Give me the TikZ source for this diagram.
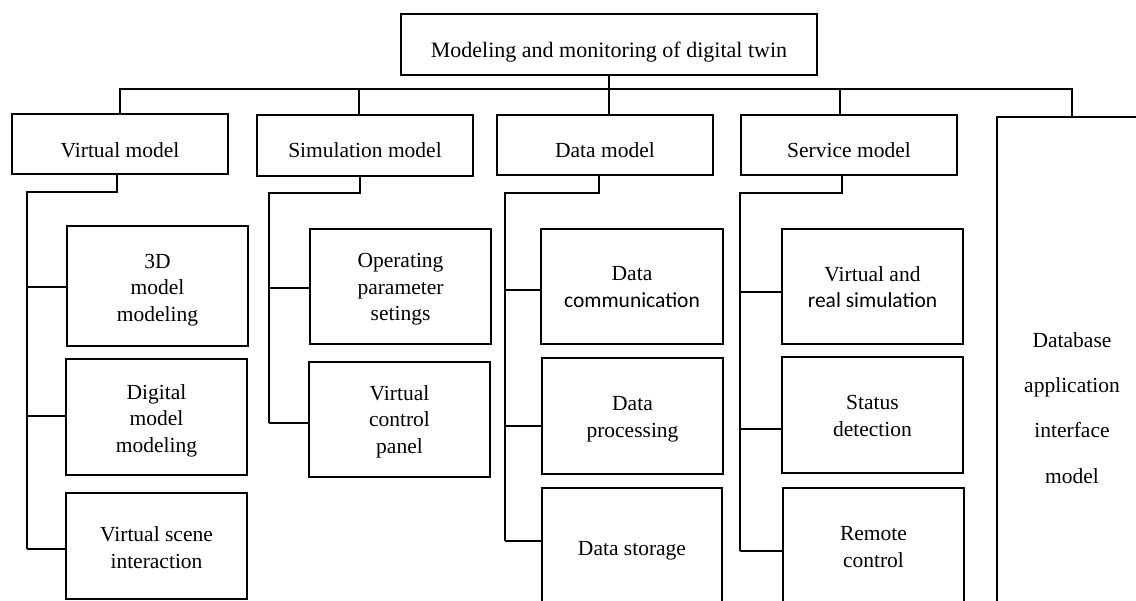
\documentclass[tikz,border=0pt]{standalone}
\usepackage{fontspec}
\setmainfont{Liberation Serif}
\newfontfamily\calfont{Carlito}
\begin{document}
\begin{tikzpicture}[x=1pt,y=-1pt,
  box/.style={draw, line width=1.7pt, inner sep=0pt},
  txt/.style={inner sep=0pt, align=center,
    font=\fontsize{21.5}{26.5}\selectfont,
    execute at begin node=\strut, execute at end node=\strut},
  wire/.style={line width=1.3pt},
  bus/.style={line width=1.6pt}]
\useasboundingbox (0,0) rectangle (1136,601);
\clip (0,0) rectangle (1136,601);

% root
\node[box, minimum width=416, minimum height=61,
  label={[txt, font=\fontsize{22}{26.5}\selectfont, yshift=-8pt]center:Modeling and monitoring of digital twin}]
  (root) at (609,44.5) {};

% first level
\node[box, minimum width=216, minimum height=60,
  label={[txt, yshift=-8pt]center:Virtual model}] (virt) at (120,144) {};
\node[box, minimum width=216, minimum height=61,
  label={[txt, yshift=-6.5pt]center:Simulation model}] (sim) at (365,145.5) {};
\node[box, minimum width=216, minimum height=60,
  label={[txt, yshift=-7pt]center:Data model}] (data) at (605,145) {};
\node[box, minimum width=216, minimum height=60,
  label={[txt, yshift=-7pt]center:Service model}] (serv) at (849,145) {};

% database interface model: open box running off the page
\coordinate (dbtl) at (997,117);
\coordinate (dbr) at (1140,117);
\coordinate (dbb) at (997,610);
\draw[line width=1.7pt] (dbr) -- (dbtl) -- (dbb);
\node[txt, font=\fontsize{21.5}{45.3}\selectfont] (db) at (1072,414.5)
  {Database\\application\\interface\\model};

% second level: virtual model
\node[box, minimum width=181, minimum height=120,
  label={[txt, yshift=-5.5pt]center:{3D\\model\\modeling}}] (d3) at (157.5,286) {};
\node[box, minimum width=181, minimum height=116,
  label={[txt, yshift=-5.2pt]center:{Digital\\model\\modeling}}] (digi) at (156.5,417) {};
\node[box, minimum width=181, minimum height=106,
  label={[txt, yshift=-5.6pt]center:{Virtual scene\\interaction}}] (vsc) at (156.5,546) {};

% second level: simulation model
\node[box, minimum width=181, minimum height=115,
  label={[txt, yshift=-4.7pt]center:{Operating\\parameter\\setings}}] (oper) at (400.5,286.5) {};
\node[box, minimum width=181, minimum height=115,
  label={[txt, yshift=-3.7pt]center:{Virtual\\control\\panel}}] (vcp) at (399.5,419.5) {};

% second level: data model
\node[box, minimum width=182, minimum height=115,
  label={[txt, yshift=-4.5pt]center:{Data\\{\calfont communication}}}] (dcom) at (632,286.5) {};
\node[box, minimum width=181, minimum height=116,
  label={[txt, yshift=-5pt]center:{Data\\processing}}] (dproc) at (632.5,416) {};
\node[box, minimum width=180, minimum height=122,
  label={[txt, yshift=-0.7pt]center:Data storage}] (dstor) at (632,549) {};

% second level: service model
\node[box, minimum width=181, minimum height=115,
  label={[txt, yshift=-4.5pt]center:{Virtual and\\{\calfont real simulation}}}] (vrs) at (872.5,286.5) {};
\node[box, minimum width=181, minimum height=116,
  label={[txt, yshift=-5pt]center:{Status\\detection}}] (stat) at (872.5,415) {};
\node[box, minimum width=181, minimum height=118,
  label={[txt, yshift=-3.7pt]center:{Remote\\control}}] (rem) at (873.5,547) {};

% main bus
\coordinate (busL) at (120,89);
\coordinate (busS) at (359,89);
\coordinate (busR) at (1072,89);
\coordinate (busV) at (840,89);
\draw[bus] (virt.north) -- (busL) -- (busR) -- (busR |- dbtl);
\draw[bus] (busS) -- (busS |- sim.north);
\draw[bus] (root.south) -- (root.south |- data.north);
\draw[bus] (busV) -- (busV |- serv.north);

% virtual model branches
\coordinate (vt) at (117,174);
\coordinate (vk) at (27,192);
\coordinate (v1) at (27,287);
\coordinate (v2) at (27,416);
\coordinate (v3) at (27,549);
\draw[wire] (vt) |- (vk) -- (v3);
\draw[wire] (v1) -- (v1 -| d3.west);
\draw[wire] (v2) -- (v2 -| digi.west);
\draw[wire] (v3) -- (v3 -| vsc.west);

% simulation model branches
\coordinate (st) at (360,176);
\coordinate (sk) at (269,193);
\coordinate (s1) at (269,288);
\coordinate (s2) at (269,423);
\draw[wire] (st) |- (sk) -- (s2);
\draw[wire] (s1) -- (s1 -| oper.west);
\draw[wire] (s2) -- (s2 -| vcp.west);

% data model branches
\coordinate (dt) at (599,175);
\coordinate (dk) at (505,193);
\coordinate (e1) at (505,290);
\coordinate (e2) at (505,426);
\coordinate (e3) at (505,541);
\draw[wire] (dt) |- (dk) -- (e3);
\draw[wire] (e1) -- (e1 -| dcom.west);
\draw[wire] (e2) -- (e2 -| dproc.west);
\draw[wire] (e3) -- (e3 -| dstor.west);

% service model branches
\coordinate (rt) at (842,175);
\coordinate (rk) at (740,193);
\coordinate (r1) at (740,292);
\coordinate (r2) at (740,429);
\coordinate (r3) at (740,551);
\draw[wire] (rt) |- (rk) -- (r3);
\draw[wire] (r1) -- (r1 -| vrs.west);
\draw[wire] (r2) -- (r2 -| stat.west);
\draw[wire] (r3) -- (r3 -| rem.west);
\end{tikzpicture}
\end{document}
